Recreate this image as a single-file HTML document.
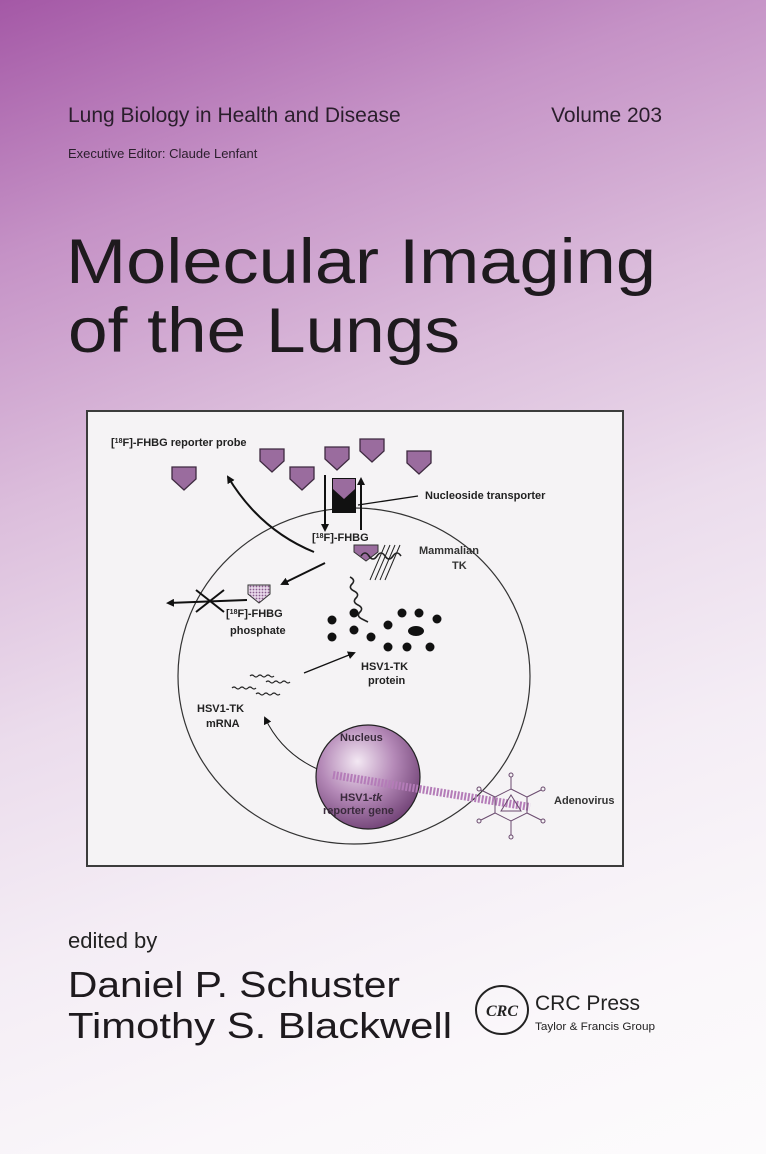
<!DOCTYPE html>
<html><head><meta charset="utf-8"><style>
html,body{margin:0;padding:0;width:766px;height:1154px;overflow:hidden}
body{background:linear-gradient(160deg,#a458a6 0%,#c592c6 18%,#dcbedc 36%,#ebdcec 52%,#f4edf5 68%,#faf7fa 85%,#fcfbfc 100%)}
svg{position:absolute;left:0;top:0}
</style></head><body>
<svg width="766" height="1154" viewBox="0 0 766 1154" font-family="Liberation Sans, sans-serif">
<defs>
<radialGradient id="nuc" cx="0.4" cy="0.35" r="0.7">
<stop offset="0" stop-color="#f3e8f3"/><stop offset="0.5" stop-color="#b58ab8"/><stop offset="1" stop-color="#6e3f73"/>
</radialGradient>
<pattern id="dots" width="3" height="3" patternUnits="userSpaceOnUse"><rect width="3" height="3" fill="#e8d8ea"/><circle cx="1.5" cy="1.5" r="0.9" fill="#8a5d8e"/></pattern>
<g id="pent"><path d="M-12,-11 H12 V1 L0,12 L-12,1 Z" fill="#9a6c9e" stroke="#3e2a40" stroke-width="1.3"/></g>
<marker id="ah" markerWidth="8" markerHeight="8" refX="6" refY="4" orient="auto" markerUnits="userSpaceOnUse"><path d="M0,0 L8,4 L0,8 Z" fill="#111"/></marker>
</defs>

<text x="68" y="122" font-size="21" fill="#2a1e2c">Lung Biology in Health and Disease</text>
<text x="662" y="122" font-size="21" fill="#2a1e2c" text-anchor="end">Volume 203</text>
<text x="68" y="158" font-size="13" fill="#2a1e2c">Executive Editor: Claude Lenfant</text>
<text x="66" y="283" font-size="63" fill="#1e1a1e" textLength="590" lengthAdjust="spacingAndGlyphs">Molecular Imaging</text>
<text x="68" y="352" font-size="63" fill="#1e1a1e" textLength="392" lengthAdjust="spacingAndGlyphs">of the Lungs</text>

<rect x="87" y="411" width="536" height="455" fill="#f5f3f5" stroke="#3c3c3c" stroke-width="2"/>

<text x="111" y="446" font-size="11" font-weight="bold" fill="#222">[<tspan font-size="7" dy="-3">18</tspan><tspan dy="3">F]-FHBG reporter probe</tspan></text>
<use href="#pent" x="184" y="478"/><use href="#pent" x="272" y="460"/><use href="#pent" x="302" y="478"/>
<use href="#pent" x="337" y="458"/><use href="#pent" x="372" y="450"/><use href="#pent" x="419" y="462"/>

<ellipse cx="354" cy="676" rx="176" ry="168" fill="none" stroke="#333" stroke-width="1.2"/>
<rect x="332" y="478" width="24" height="35" fill="#111"/>
<path d="M333,479 H355 V489 L344,499 L333,489 Z" fill="#9a6c9e"/>
<line x1="325" y1="475" x2="325" y2="530" stroke="#111" stroke-width="2" marker-end="url(#ah)"/>
<line x1="361" y1="530" x2="361" y2="479" stroke="#111" stroke-width="2" marker-end="url(#ah)"/>
<line x1="358" y1="505" x2="418" y2="496" stroke="#111" stroke-width="1.3"/>
<text x="425" y="499" font-size="11" font-weight="bold" fill="#222">Nucleoside transporter</text>

<path d="M314,552 Q260,530 228,477" fill="none" stroke="#111" stroke-width="2" marker-end="url(#ah)"/>
<text x="312" y="541" font-size="11" font-weight="bold" fill="#222">[<tspan font-size="7" dy="-3">18</tspan><tspan dy="3">F]-FHBG</tspan></text>
<path d="M354,545 H378 V552 L366,561 L354,552 Z" fill="#9a6c9e" stroke="#333"/>
<g stroke="#222" stroke-width="1"><line x1="370" y1="580" x2="385" y2="545"/><line x1="375" y1="580" x2="390" y2="545"/><line x1="380" y1="580" x2="395" y2="545"/><line x1="385" y1="580" x2="400" y2="545"/></g>
<path d="M361,556 q4,-6 8,0 t8,0 t8,0 t8,0 t8,0" fill="none" stroke="#222" stroke-width="1.6"/>
<text x="419" y="554" font-size="11" font-weight="bold" fill="#333">Mammalian</text>
<text x="452" y="569" font-size="11" font-weight="bold" fill="#333">TK</text>

<line x1="325" y1="563" x2="282" y2="584" stroke="#111" stroke-width="2" marker-end="url(#ah)"/>
<path d="M248,585 H270 V594 L259,603 L248,594 Z" fill="url(#dots)" stroke="#333"/>
<line x1="247" y1="600" x2="168" y2="603" stroke="#111" stroke-width="2" marker-end="url(#ah)"/>
<line x1="196" y1="590" x2="224" y2="612" stroke="#111" stroke-width="2"/>
<line x1="196" y1="612" x2="224" y2="590" stroke="#111" stroke-width="2"/>
<text x="226" y="617" font-size="11" font-weight="bold" fill="#222">[<tspan font-size="7" dy="-3">18</tspan><tspan dy="3">F]-FHBG</tspan></text>
<text x="230" y="634" font-size="11" font-weight="bold" fill="#222">phosphate</text>

<path d="M350,577 q6,3 2,7 t2,7 t2,7 t2,7 t2,7 t2,7 t6,3" fill="none" stroke="#222" stroke-width="1.6"/>
<g fill="#111">
<circle cx="332" cy="620" r="4.5"/><circle cx="354" cy="613" r="4.5"/><circle cx="332" cy="637" r="4.5"/><circle cx="354" cy="630" r="4.5"/>
<circle cx="371" cy="637" r="4.5"/><circle cx="388" cy="625" r="4.5"/><circle cx="402" cy="613" r="4.5"/><circle cx="419" cy="613" r="4.5"/>
<circle cx="437" cy="619" r="4.5"/><circle cx="388" cy="647" r="4.5"/><circle cx="407" cy="647" r="4.5"/><circle cx="430" cy="647" r="4.5"/>
<ellipse cx="416" cy="631" rx="8" ry="5"/></g>
<line x1="304" y1="673" x2="354" y2="653" stroke="#111" stroke-width="1.3" marker-end="url(#ah)"/>
<text x="361" y="670" font-size="11" font-weight="bold" fill="#222">HSV1-TK</text>
<text x="368" y="684" font-size="11" font-weight="bold" fill="#222">protein</text>

<g fill="none" stroke="#222" stroke-width="1.2">
<path d="M250,676 q2,-2 4,0 t4,0 t4,0 t4,0 t4,0 t4,0"/>
<path d="M266,682 q2,-2 4,0 t4,0 t4,0 t4,0 t4,0 t4,0"/>
<path d="M232,688 q2,-2 4,0 t4,0 t4,0 t4,0 t4,0 t4,0"/>
<path d="M256,694 q2,-2 4,0 t4,0 t4,0 t4,0 t4,0 t4,0"/>
</g>
<text x="197" y="712" font-size="11" font-weight="bold" fill="#222">HSV1-TK</text>
<text x="206" y="727" font-size="11" font-weight="bold" fill="#222">mRNA</text>
<path d="M333,775 Q285,760 265,718" fill="none" stroke="#222" stroke-width="1" marker-end="url(#ah)"/>

<circle cx="368" cy="777" r="52" fill="url(#nuc)" stroke="#222" stroke-width="1.2"/>
<path d="M333,775 L530,807" stroke="#b47cb8" stroke-width="8" stroke-dasharray="2 1.5"/>
<text x="340" y="741" font-size="11" font-weight="bold" fill="#3a2a3c">Nucleus</text>
<text x="340" y="801" font-size="11" font-weight="bold" fill="#3a2a3c">HSV1-<tspan font-style="italic">tk</tspan></text>
<text x="323" y="814" font-size="11" font-weight="bold" fill="#3a2a3c">reporter gene</text>

<g stroke="#6a4a6e" stroke-width="1" fill="none">
<polygon points="511,789 527,797 527,813 511,821 495,813 495,797"/>
<polygon points="511,795 521,811 501,811"/>
<line x1="511" y1="789" x2="511" y2="777"/><line x1="511" y1="821" x2="511" y2="835"/>
<line x1="527" y1="797" x2="541" y2="790"/><line x1="495" y1="797" x2="481" y2="790"/>
<line x1="527" y1="813" x2="541" y2="820"/><line x1="495" y1="813" x2="481" y2="820"/>
<circle cx="511" cy="775" r="2"/><circle cx="511" cy="837" r="2"/><circle cx="543" cy="789" r="2"/><circle cx="479" cy="789" r="2"/><circle cx="543" cy="821" r="2"/><circle cx="479" cy="821" r="2"/>
</g>
<text x="554" y="804" font-size="11" font-weight="bold" fill="#333">Adenovirus</text>

<text x="68" y="948" font-size="22" fill="#222">edited by</text>
<text x="68" y="997" font-size="36" fill="#1e1a1e" textLength="332" lengthAdjust="spacingAndGlyphs">Daniel P. Schuster</text>
<text x="68" y="1038" font-size="36" fill="#1e1a1e" textLength="384" lengthAdjust="spacingAndGlyphs">Timothy S. Blackwell</text>
<ellipse cx="502" cy="1010" rx="26" ry="24" fill="none" stroke="#222" stroke-width="2"/>
<text x="502" y="1016" font-size="16" font-style="italic" font-weight="bold" font-family="Liberation Serif, serif" text-anchor="middle" fill="#222">CRC</text>
<text x="535" y="1010" font-size="21" fill="#222" textLength="105" lengthAdjust="spacingAndGlyphs">CRC Press</text>
<text x="535" y="1030" font-size="11" fill="#222" textLength="120" lengthAdjust="spacingAndGlyphs">Taylor &amp; Francis Group</text>
</svg>
</body></html>
